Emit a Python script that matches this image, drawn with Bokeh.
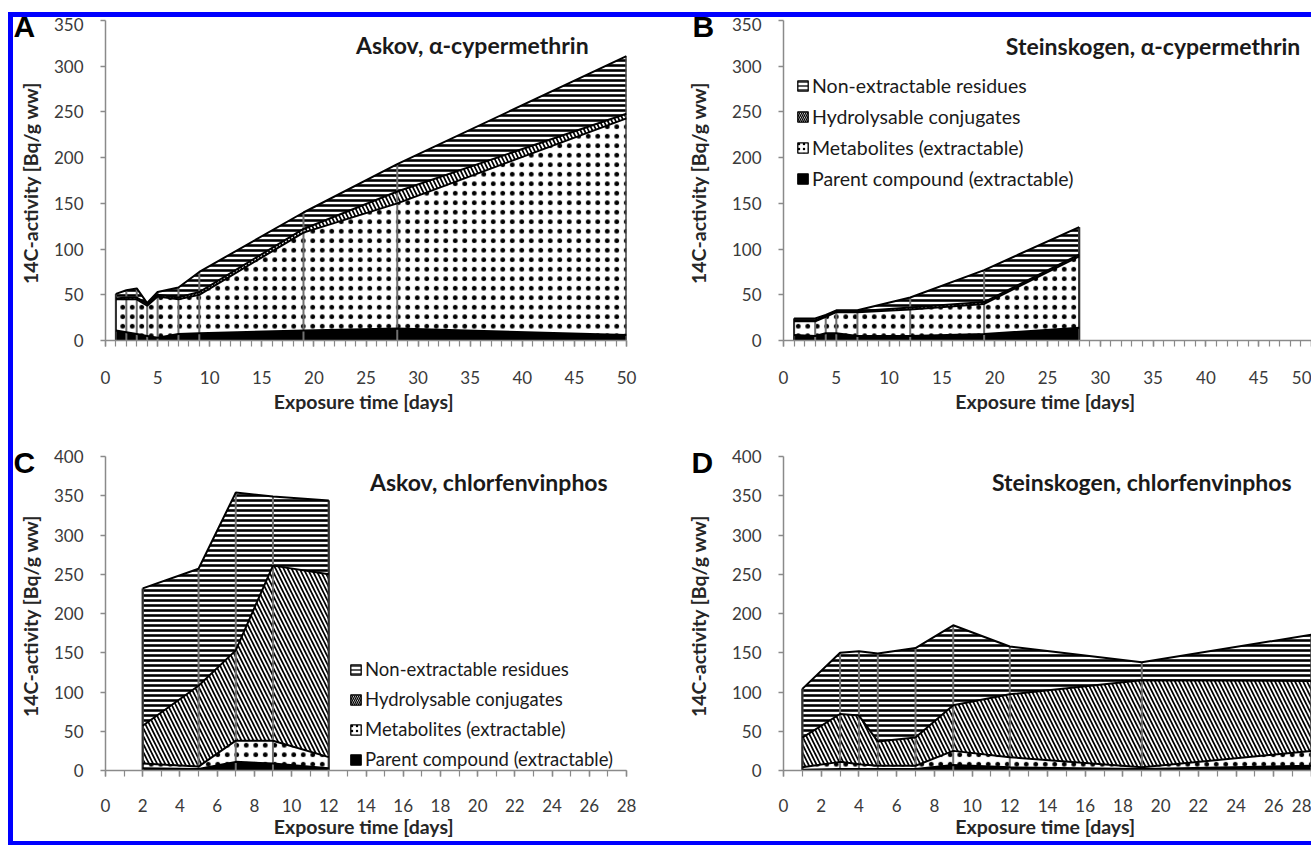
from bokeh.plotting import figure
from bokeh.layouts import row, column
from bokeh.models import (ColumnDataSource, Range1d, SingleIntervalTicker, Label,
                          Legend, LegendItem, Div)
from bokeh.transform import stack
from bokeh.embed import file_html
from bokeh.resources import INLINE

# ---------------- data ----------------
KEYS = ["parent", "metab", "hydro", "nonext"]
NAMES = {"parent": "Parent compound (extractable)",
         "metab": "Metabolites (extractable)",
         "hydro": "Hydrolysable conjugates",
         "nonext": "Non-extractable residues"}

# A: Askov, alpha-cypermethrin
a_days = [1, 2, 3, 4, 5, 7, 9, 19, 28, 50]
a_parent = [11, 9, 7, 5, 3, 7, 8, 11, 13, 6]
a_metab = [34, 36, 38, 33, 45, 38, 42, 107, 137, 237]
a_hydro = [1, 2, 2, 2, 2, 2, 3, 4, 13, 5]
a_nonext = [5, 8, 10, 1, 3, 11, 22, 18, 30, 63]

# B: Steinskogen, alpha-cypermethrin
b_days = [1, 3, 4, 5, 7, 12, 19, 28]
b_parent = [6, 5, 8, 8, 5, 5, 7, 14]
b_metab = [15, 16, 18, 23, 26, 29, 33, 78]
b_hydro = [1, 1, 1, 1, 1, 2, 2, 2]
b_nonext = [2, 2, 1, 1, 1, 11, 35, 30]

# C: Askov, chlorfenvinphos
c_days = [2, 5, 7, 9, 12]
c_parent = [3, 2, 11, 9, 3]
c_metab = [6, 3, 27, 29, 14]
c_hydro = [48, 103, 115, 223, 233]
c_nonext = [175, 149, 201, 88, 94]

# D: Steinskogen, chlorfenvinphos
d_days = [1, 3, 4, 5, 7, 9, 12, 19, 28]
d_parent = [1, 2, 2, 2, 2, 7, 4, 2, 6]
d_metab = [3, 9, 6, 4, 4, 18, 13, 2, 19]
d_hydro = [38, 61, 62, 31, 36, 58, 80, 111, 89]
d_nonext = [62, 78, 82, 112, 114, 102, 61, 23, 59]

TITLES = ["Askov, \u03b1-cypermethrin", "Steinskogen, \u03b1-cypermethrin",
          "Askov, chlorfenvinphos", "Steinskogen, chlorfenvinphos"]
LETTERS = ["A", "B", "C", "D"]
X_TITLE = "Exposure time  [days]"
Y_TITLE = "14C-activity  [Bq/g ww]"

# ---------------- style ----------------
FONT = "Lato"
BLUE = "#0000ff"
FILL = {"parent": "black", "metab": "white", "hydro": "white", "nonext": "white"}
HATCH = {"parent": None, "metab": "dot", "hydro": "left_diagonal_line",
         "nonext": "horizontal_line"}
HSCALE = {"parent": 6, "metab": 9.5, "hydro": 8, "nonext": 5}
HWEIGHT = {"parent": 1, "metab": 0.8, "hydro": 1.7, "nonext": 2.6}
AXIS_GRAY = "#8a8a8a"
NAN = float("nan")


def panel(days, parent, metab, hydro, nonext, xmax, xint, ymax, width, height,
          mbl, mbr, mbt, mbb, title, title_xy, letter, letter_offset,
          x_std, xlab_std, ylab_std, legend_loc=None, legend_size="19.5px"):
    src = ColumnDataSource(dict(day=days, parent=parent, metab=metab,
                                hydro=hydro, nonext=nonext))
    p = figure(width=width, height=height, x_range=Range1d(0, xmax),
               y_range=Range1d(0, ymax), output_backend="svg",
               toolbar_location=None, min_border_left=mbl, min_border_right=mbr,
               min_border_top=mbt, min_border_bottom=mbb)
    p.grid.visible = False
    p.outline_line_color = None
    p.background_fill_color = "white"
    p.border_fill_color = "white"

    p.varea_stack(KEYS, x="day", source=src,
                  fill_color=[FILL[k] for k in KEYS],
                  hatch_pattern=[HATCH[k] for k in KEYS],
                  hatch_scale=[HSCALE[k] for k in KEYS],
                  hatch_weight=[HWEIGHT[k] for k in KEYS],
                  hatch_color="black")
    p.segment(x0="day", y0=0, x1="day", y1=stack(*KEYS), source=src,
              line_color="#707070", line_width=2)
    # outer edges of the stacked area (first and last sampling day)
    ends = [0, len(days) - 1]
    edge_src = ColumnDataSource(dict(day=[days[i] for i in ends],
                                     parent=[parent[i] for i in ends],
                                     metab=[metab[i] for i in ends],
                                     hydro=[hydro[i] for i in ends],
                                     nonext=[nonext[i] for i in ends]))
    p.segment(x0="day", y0=0, x1="day", y1=stack(*KEYS), source=edge_src,
              line_color="#303030", line_width=2)
    p.vline_stack(KEYS, x="day", source=src, line_color="black", line_width=2)

    xa, ya = p.xaxis[0], p.yaxis[0]
    xa.ticker = SingleIntervalTicker(interval=xint, num_minor_ticks=xint)
    ya.ticker = SingleIntervalTicker(interval=50, num_minor_ticks=0)
    for ax in (xa, ya):
        ax.axis_line_color = AXIS_GRAY
        ax.axis_line_width = 1.5
        ax.major_tick_line_color = AXIS_GRAY
        ax.major_tick_line_width = 1.5
        ax.minor_tick_line_color = AXIS_GRAY
        ax.minor_tick_line_width = 1.2
        ax.major_tick_in = 0
        ax.major_tick_out = 6
        ax.minor_tick_in = 0
        ax.minor_tick_out = 6
        ax.major_label_text_font = FONT
        ax.major_label_text_font_size = "17px"
        ax.major_label_text_color = "#3a3a3a"
        ax.axis_label_text_font = FONT
        ax.axis_label_text_font_size = "19.5px"
        ax.axis_label_text_font_style = "bold"
        ax.axis_label_text_color = "#262626"
    ya.minor_tick_line_color = None
    ya.major_tick_out = 5
    xa.axis_label = X_TITLE
    ya.axis_label = Y_TITLE
    xa.major_label_standoff = x_std
    xa.axis_label_standoff = xlab_std
    ya.major_label_standoff = 17
    ya.axis_label_standoff = ylab_std

    # panel title inside the plot area
    p.add_layout(Label(x=title_xy[0], y=title_xy[1], text=title,
                       text_align="center", text_baseline="middle",
                       text_font=FONT, text_font_size="23px",
                       text_font_style="bold", text_color="#1a1a1a"))

    # panel letter: figure title pulled down next to the top of the y axis
    p.title.text = "\n" + letter
    p.title.text_line_height = 0.3
    p.title.align = "left"
    p.title.vertical_align = "bottom"
    p.title.offset = letter_offset
    p.title.standoff = -45
    p.title.text_font = "Liberation Sans"
    p.title.text_font_size = "30px"
    p.title.text_font_style = "bold"
    p.title.text_color = "black"

    if legend_loc is not None:
        items = []
        for k in reversed(KEYS):
            r = p.quad(left=[NAN], right=[NAN], top=[NAN], bottom=[NAN],
                       fill_color=FILL[k], hatch_pattern=HATCH[k],
                       hatch_scale=4 if k != "metab" else 5,
                       hatch_weight=1.3, hatch_color="black",
                       line_color="black", line_width=1.3)
            items.append(LegendItem(label=NAMES[k], renderers=[r]))
        leg = Legend(items=items, location=legend_loc, orientation="vertical",
                     glyph_width=13, glyph_height=13, label_text_font=FONT,
                     label_text_font_size=legend_size,
                     label_text_color="#1a1a1a",
                     label_standoff=3, spacing=8, padding=0, margin=0,
                     label_height=20, background_fill_alpha=0,
                     border_line_alpha=0)
        p.add_layout(leg)
    return p


# frames: A/C left at x=105, B/D left at x=783 (layout pixels)
pA = panel(a_days, a_parent, a_metab, a_hydro, a_nonext, 50, 5, 350,
           647, 400, 92, 34, 3, 77, TITLES[0], (35.2, 323.7), LETTERS[0],
           -92, 24, 3, 9)
pB = panel(b_days, b_parent, b_metab, b_hydro, b_nonext, 50, 5, 350,
           651, 400, 123, 0, 3, 77, TITLES[1], (35.0, 322.6), LETTERS[1],
           -91, 24, 3, 19, legend_loc=(13, 150))
pC = panel(c_days, c_parent, c_metab, c_hydro, c_nonext, 28, 2, 400,
           647, 424, 92, 34, 39, 71, TITLES[2], (20.6, 368), LETTERS[2],
           -92, 22, 0, 9, legend_loc=(244, 0), legend_size="18.5px")
pD = panel(d_days, d_parent, d_metab, d_hydro, d_nonext, 28, 2, 400,
           651, 424, 123, 0, 39, 71, TITLES[3], (19.0, 368), LETTERS[3],
           -92, 22, 0, 19)


def bar(w, h, color=None):
    st = {"background-color": color} if color else {}
    return Div(text="", width=w, height=h, margin=(0, 0, 0, 0), styles=st)


grid = column(row(pA, pB, spacing=0), row(pC, pD, spacing=0), spacing=0)
layout = column(
    bar(1311, 12),
    row(bar(8, 5), bar(1303, 5, BLUE), spacing=0),
    row(bar(8, 824), bar(5, 824, BLUE), grid, spacing=0),
    row(bar(8, 4), bar(1303, 4, BLUE), spacing=0),
    spacing=0)

open("out.html", "w").write(file_html(layout, INLINE))
